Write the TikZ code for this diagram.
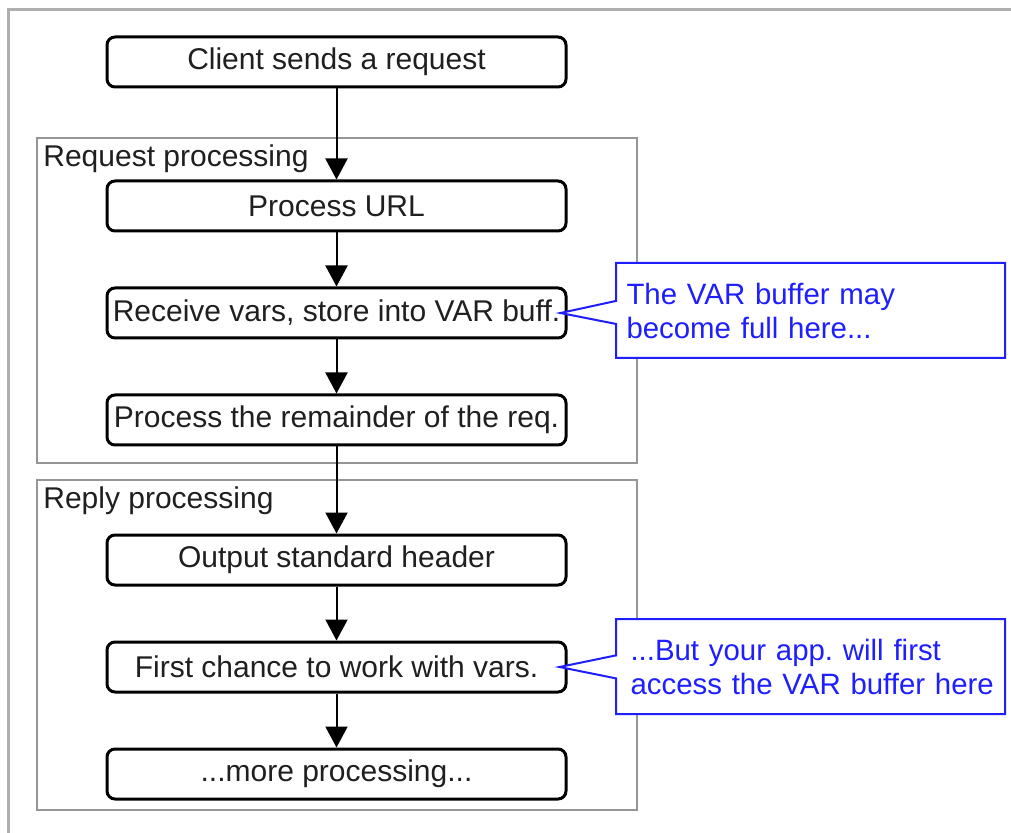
\documentclass[tikz,border=0pt]{standalone}
\usepackage{fontspec}
\setmainfont{Liberation Sans}
\usetikzlibrary{positioning, arrows.meta, shapes.callouts}
\frenchspacing

\definecolor{notecolor}{RGB}{30,30,255}
\definecolor{framegray}{RGB}{175,175,175}
\definecolor{groupgray}{RGB}{150,150,150}

\begin{document}
\begin{tikzpicture}[
        x=0.5pt, y=-0.5pt,
        >={Triangle[length=10.5pt, width=11pt]},
        node distance=53.5pt,
        font=\fontsize{15}{17}\selectfont,
        stepbox/.style={
          draw,
          rounded corners=4pt,
          line width=1.5pt,
          minimum width=229.5pt,
          minimum height=25pt,
          inner xsep=1pt,
          text=black!88
        },
        groupbox/.style={draw=groupgray, line width=0.9pt},
        grouplabel/.style={anchor=north west, inner sep=3pt, text=black!88},
        note/.style={
          rectangle callout,
          draw=notecolor,
          fill=white,
          text=notecolor,
          font=\fontsize{14.7}{17}\selectfont,
          line width=1pt,
          callout pointer width=11.5pt,
          anchor=north west,
          align=left,
          text width=188pt,
          inner xsep=3.25pt,
          minimum height=47.5pt
        }
      ]
      \useasboundingbox (0,0) rectangle (1011,833);

      % Marco
      \draw[framegray, line width=1.5pt] (8,833) -- (8,10) -- (1011,10);

      % Grupos
      \draw[groupbox] (37,138) rectangle (637,463);
      \node[grouplabel] (reqlabel) at (37,138) {Request processing};
      \draw[groupbox] (37,480) rectangle (637,810);
      \node[grouplabel] (replabel) at (37,480) {Reply processing};

      % Pasos
      \node[stepbox] (client) at (336.5,62) {Client sends a request};
      \node[stepbox, node distance=72pt, below of=client] (url) {Process URL};
      \node[stepbox, below of=url] (recv) {Receive vars, store into VAR buff.};
      \node[stepbox, below of=recv] (rest) {Process the remainder of the req.};
      \node[stepbox, node distance=70pt, below of=rest] (header) {Output standard header};
      \node[stepbox, below of=header] (first) {First chance to work with vars.};
      \node[stepbox, below of=first] (more) {...more processing...};

      % Notas
      \node[note, callout absolute pointer={([xshift=-3.5pt]recv.east)}]
      (fullnote) at (615,262) {\hspace*{2pt}The VAR buffer may\\\hspace*{2pt}become full here...};
      \node[note, callout absolute pointer={([xshift=-4pt]first.east)}]
      (accessnote) at (615,618) {\hspace*{4pt}\mbox{...But your app. will first}\\\hspace*{4pt}\mbox{access the VAR buffer here}};

      % Flechas
      \path[->, line width=1pt]
      (client) edge (url)
      (url) edge (recv)
      (recv) edge (rest)
      (rest) edge (header)
      (header) edge (first)
      (first) edge (more);

    \end{tikzpicture}
\end{document}
